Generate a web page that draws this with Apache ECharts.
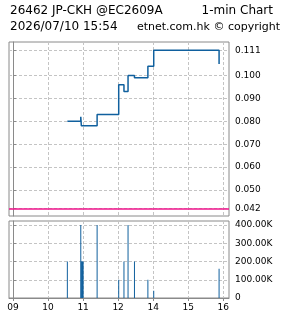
<!DOCTYPE html>
<html><head><meta charset="utf-8">
<script src="https://cdn.jsdelivr.net/npm/echarts@6/dist/echarts.min.js"></script>
<style>html,body{margin:0;padding:0;background:#fff}#c{width:285px;height:318px}</style>
</head><body><div id="c"></div>
<script>
const titleLeft = '26462 JP-CKH @EC2609A';
const titleRight = '1-min Chart';
const subLeft = '2026/07/10 15:54';
const subRight = 'etnet.com.hk \u00a9 copyright';
const priceTimes = ['10:33','10:56','10:57','11:24','13:01','13:10','13:17','13:28','13:51','14:01','15:53'];
const priceValues = [0.080,0.082,0.078,0.083,0.096,0.093,0.100,0.099,0.104,0.111,0.105];
const volTimes = ['10:33','10:56','10:57','10:58','10:59','11:00','11:24','13:01','13:10','13:17','13:28','13:51','14:01','15:53'];
const volValues = [200000,400000,200000,200000,200000,200000,400000,100000,200000,400000,200000,100000,40000,160000];
const priceTicks = [0.042,0.050,0.060,0.070,0.080,0.090,0.100,0.111];
const refLevel = 0.042;
const volTicks = [0,100000,200000,300000,400000];
const hourTicks = ['09:00','10:00','11:00','12:00','14:00','15:00','16:00'];
const hourLabels = ['09','10','11','12','14','15','16'];

function tm(s){ const p = s.split(':').map(Number); let t = (p[0]-9)*60 + p[1]; if (p[0] >= 13) t -= 60; return t; }
const hourPos = hourTicks.map(tm);
const FONT = 'DejaVu Sans';
const BLUE = '#10609e';
const GRID = '#c4c4c4';
const FRAME = '#8a8a8a';
const gridStyle = {color:GRID, type:[3,2], width:1};

const chart = echarts.init(document.getElementById('c'), null, {renderer:'canvas'});
const xBase = {
  type:'value', min:-7, max:370,
  axisTick:{show:false, customValues:hourPos},
  splitLine:{show:true, lineStyle:gridStyle},
  axisLine:{show:false}
};
chart.setOption({
  animation:false,
  backgroundColor:'#fff',
  grid:[
    {left:9, top:42, width:220, height:174, show:true, borderColor:FRAME, borderWidth:1, containLabel:false},
    {left:9, top:221, width:220, height:77, show:true, borderColor:FRAME, borderWidth:1, containLabel:false}
  ],
  xAxis:[
    Object.assign({}, xBase, {gridIndex:0, axisLabel:{show:false, customValues:hourPos}}),
    Object.assign({}, xBase, {gridIndex:1,
      axisTick:{show:true, length:3, customValues:hourPos, lineStyle:{color:FRAME}},
      axisLine:{show:true, lineStyle:{color:FRAME}},
      axisLabel:{show:true, customValues:hourPos, margin:5, fontFamily:FONT, fontSize:9, color:'#000',
        formatter:v=>{const i = hourPos.indexOf(v); return i>=0 ? hourLabels[i] : '';}}})
  ],
  yAxis:[
    {type:'value', gridIndex:0, position:'right', min:0.03864, max:0.11462,
     axisLine:{show:true, lineStyle:{color:FRAME}},
     axisTick:{show:true, length:3, customValues:priceTicks, lineStyle:{color:FRAME}},
     axisLabel:{show:true, customValues:priceTicks, margin:6, fontFamily:FONT, fontSize:9, color:'#000', formatter:v=>v.toFixed(3)},
     splitLine:{show:true, lineStyle:gridStyle}},
    {type:'value', gridIndex:1, position:'right', min:0, max:422000,
     axisLine:{show:true, lineStyle:{color:FRAME}},
     axisTick:{show:true, length:3, customValues:volTicks, lineStyle:{color:FRAME}},
     axisLabel:{show:true, customValues:volTicks, margin:6, fontFamily:FONT, fontSize:9, color:'#000',
       formatter:v=> v===0 ? '0' : (v/1000).toFixed(2)+'K'},
     splitLine:{show:true, lineStyle:gridStyle}}
  ],
  graphic:[
    {type:'text', left:10, top:5, style:{text:titleLeft, fontFamily:FONT, fontSize:12, fill:'#000'}},
    {type:'text', right:12, top:5, style:{text:titleRight, fontFamily:FONT, fontSize:12, fill:'#000'}},
    {type:'text', left:10, top:21, style:{text:subLeft, fontFamily:FONT, fontSize:12, fill:'#000'}},
    {type:'text', right:5, top:22, style:{text:subRight, fontFamily:FONT, fontSize:11, fill:'#000'}}
  ],
  series:[
    {type:'line', xAxisIndex:0, yAxisIndex:0, z:4, step:'end', showSymbol:false, symbol:'none',
     data: priceTimes.map((t,i)=>[tm(t), priceValues[i]]),
     lineStyle:{color:BLUE, width:1.5},
     markLine:{silent:true, precision:6, symbol:'none', label:{show:false}, animation:false,
       lineStyle:{color:'#f0148c', width:1.5, type:'solid'},
       data:[{yAxis:refLevel}]}},
    {type:'bar', xAxisIndex:1, yAxisIndex:1, barWidth:1, z:4,
     data: volTimes.map((t,i)=>[tm(t), volValues[i]]),
     itemStyle:{color:BLUE}}
  ]
});
</script></body></html>
